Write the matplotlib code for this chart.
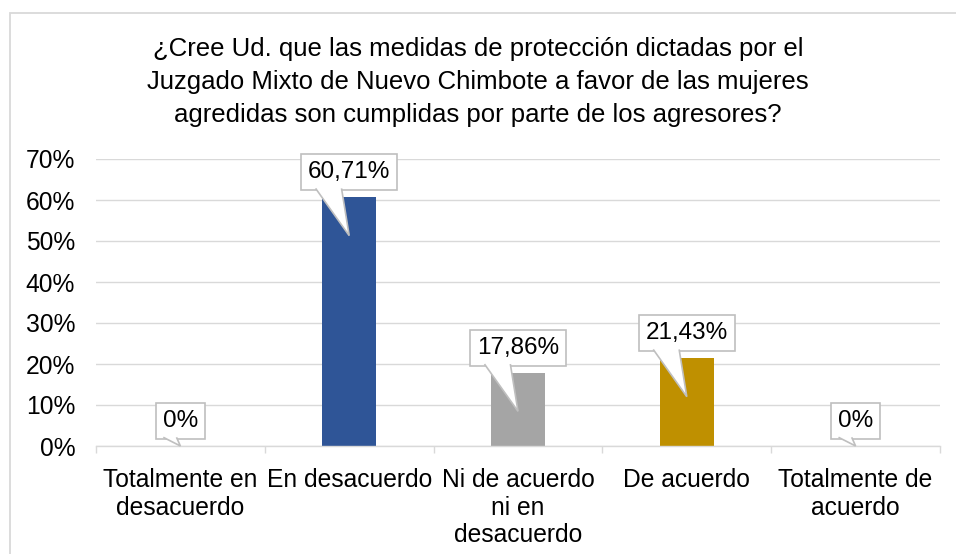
import matplotlib
matplotlib.use("Agg")
import matplotlib.pyplot as plt
from matplotlib.patches import Rectangle, Polygon
from matplotlib.transforms import IdentityTransform

plt.rcParams['font.family'] = ['Liberation Sans', 'DejaVu Sans']

# data
categories = ["Totalmente en\ndesacuerdo", "En desacuerdo", "Ni de acuerdo\nni en\ndesacuerdo",
              "De acuerdo", "Totalmente de\nacuerdo"]
values = [0, 60.71, 17.86, 21.43, 0]
labels = ["0%", "60,71%", "17,86%", "21,43%", "0%"]
colors = ["#ED7D31", "#2F5597", "#A5A5A5", "#BF9000", "#FFC000"]
title = ("¿Cree Ud. que las medidas de protección dictadas por el\n"
         "Juzgado Mixto de Nuevo Chimbote a favor de las mujeres\n"
         "agredidas son cumplidas por parte de los agresores?")

W, H = 956, 554
fig = plt.figure(figsize=(W / 100, H / 100), dpi=100)
fig.patch.set_facecolor("white")

# chart area border (runs off right/bottom)
fig.patches.append(Rectangle((10 / W, -0.2), 2, 1.2 - 13 / H, transform=fig.transFigure,
                             fill=False, edgecolor="#D9D9D9", linewidth=1.3))

ax = fig.add_axes([96 / W, 1 - 446 / H, (940 - 96) / W, (446 - 159) / H])
x = range(len(values))
ax.bar(x, values, width=0.32, color=colors, zorder=3)

ax.set_ylim(0, 70)
ax.set_xlim(-0.5, len(values) - 0.5)
ax.set_yticks(range(0, 71, 10))
ax.set_yticklabels([f"{t}%" for t in range(0, 71, 10)])
ax.grid(axis="y", color="#D9D9D9", linewidth=1)
for s in ["top", "right", "left"]:
    ax.spines[s].set_visible(False)
ax.spines["bottom"].set_color("#D9D9D9")
ax.spines["bottom"].set_linewidth(1)
ax.spines["bottom"].set_zorder(4)

ax.set_xticks(list(x))
ax.set_xticklabels(categories, linespacing=1.19)
ax.set_xticks([i - 0.5 for i in range(len(values) + 1)], minor=True)
ax.tick_params(axis="x", which="major", length=0, pad=16, labelsize=17.7)
ax.tick_params(axis="x", which="minor", length=5, color="#D9D9D9", width=1)
ax.tick_params(axis="y", length=0, pad=15, labelsize=17.7)

fig.text(0.5, 1 - 82 / H, title, ha="center", va="center", fontsize=18.5, linespacing=1.45)

# callout labels
texts = []
for i, (v, lab) in enumerate(zip(values, labels)):
    t = ax.annotate(lab, xy=(i, v), xytext=(0, 25), textcoords="offset pixels",
                    ha="center", va="center", fontsize=17.5, zorder=6,
                    bbox=dict(boxstyle="square,pad=0.28", fc="white", ec="#BFBFBF", lw=1.2))
    texts.append(t)

fig.canvas.draw()
for i, (v, t) in enumerate(zip(values, texts)):
    bb = t.get_bbox_patch().get_window_extent()
    tip = ax.transData.transform((i, max(v - 9.4, 0)))
    w = bb.x1 - bb.x0
    xa = bb.x0 + 0.15 * w
    xb = bb.x0 + 0.42 * w
    yb = bb.y0 + 1.5
    tail = Polygon([(xa, yb), (tip[0], tip[1]), (xb, yb)], closed=False,
                   transform=IdentityTransform(), facecolor="white", edgecolor="#BFBFBF",
                   linewidth=1.2, zorder=7)
    tail.set_figure(fig)
    fig.artists.append(tail)

fig.savefig("out.png", dpi=100)
